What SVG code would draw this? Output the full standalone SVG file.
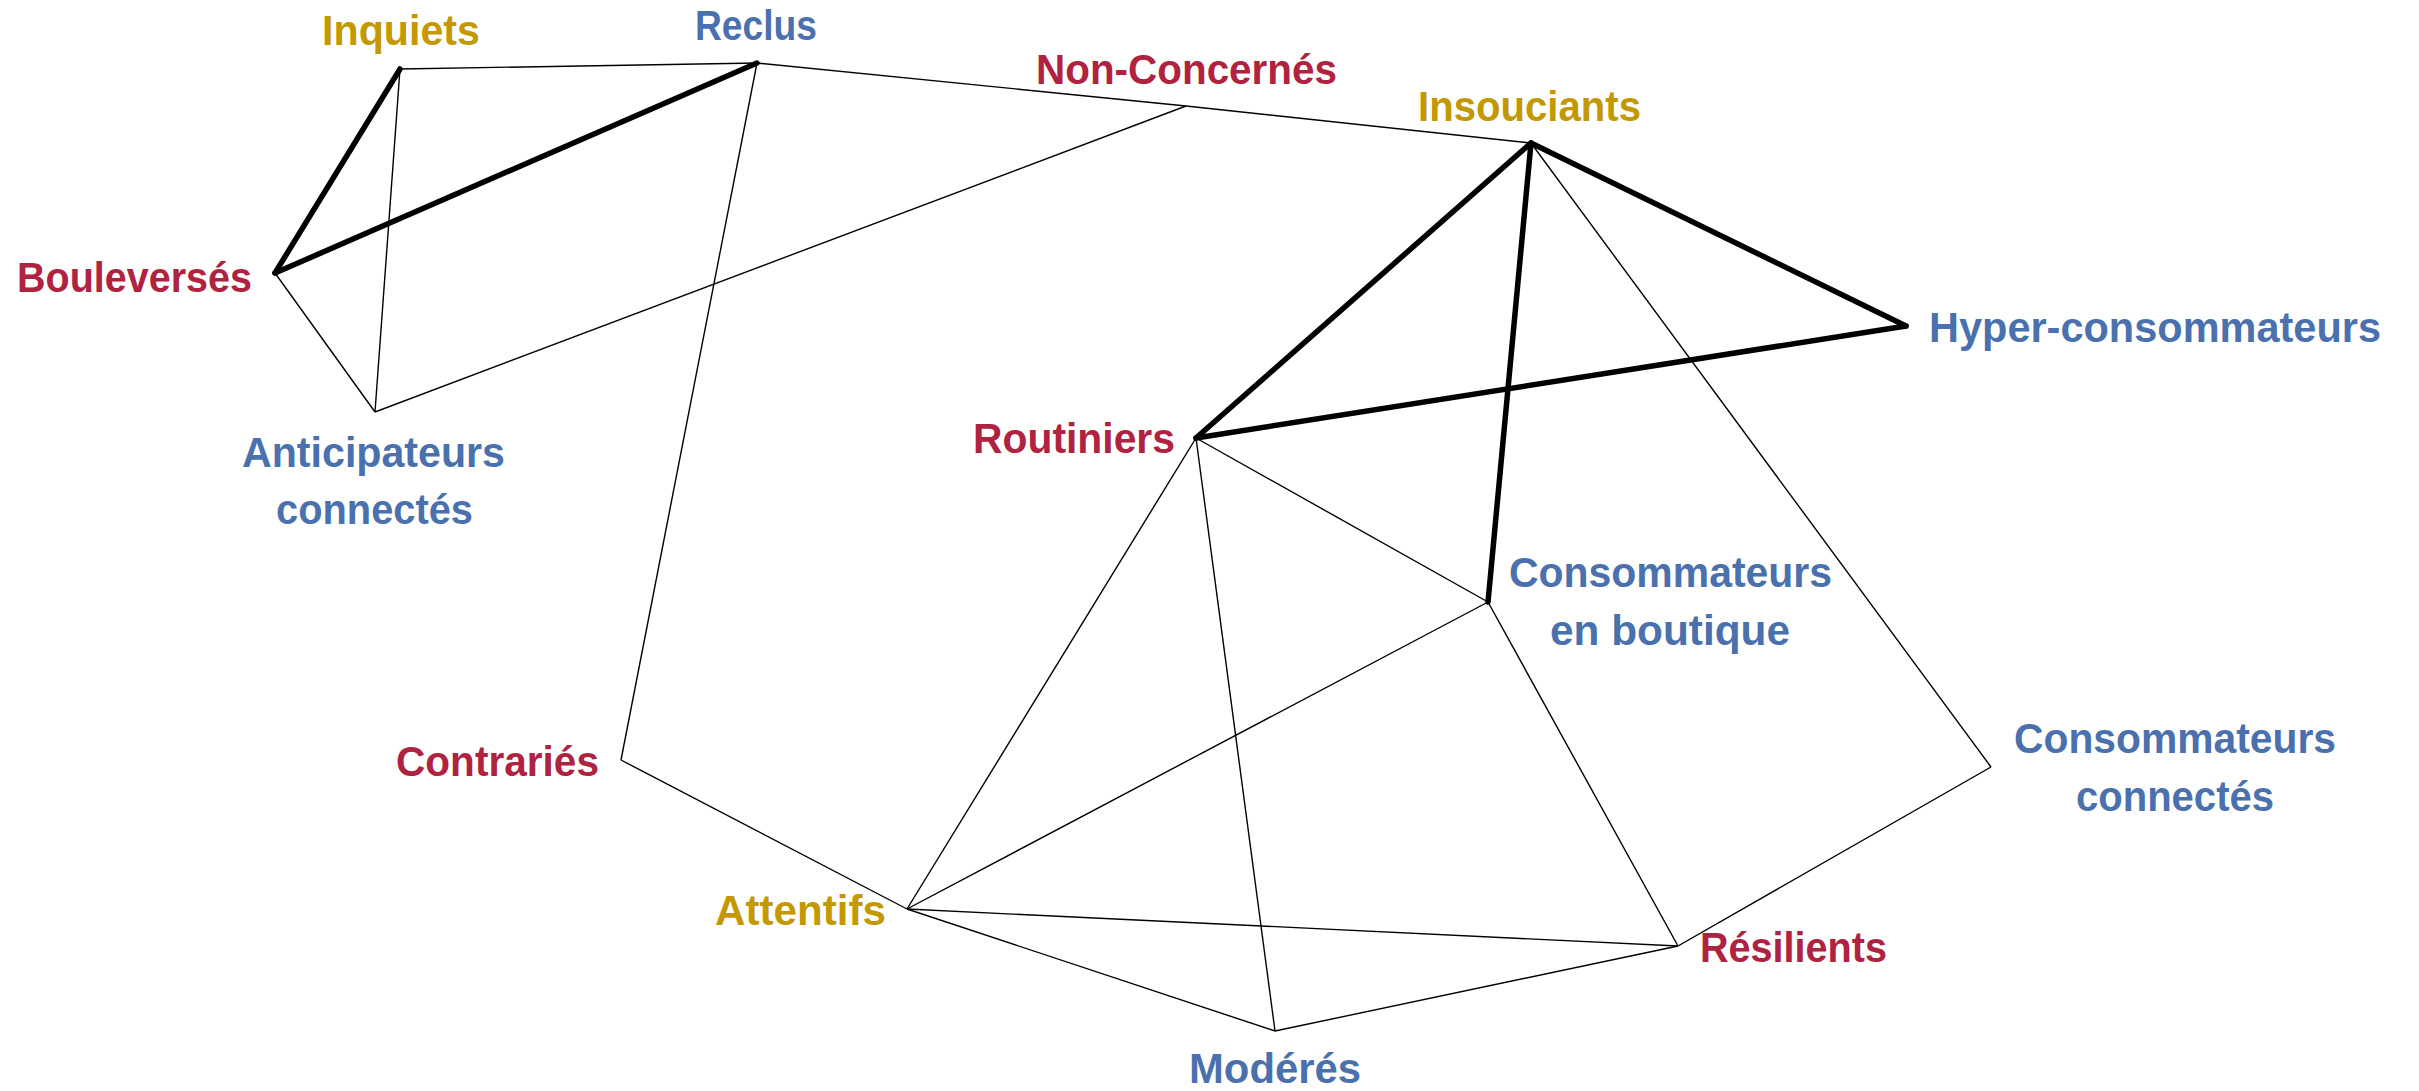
<svg xmlns="http://www.w3.org/2000/svg" width="2419" height="1091" viewBox="0 0 2419 1091">
<style>
text{font-family:"Liberation Sans",Arial,sans-serif;font-weight:bold;font-size:43px;}
.r{fill:#AF2341}.g{fill:#C39800}.b{fill:#4A71AE}
.thin{stroke:#000;stroke-width:1.4;fill:none}
.thick{stroke:#000;stroke-width:5.5;fill:none;stroke-linecap:round}
</style>
<rect width="2419" height="1091" fill="#fff"/>
<g id="connectors">
<line class="thin" x1="400" y1="69" x2="757" y2="63"/>
<line class="thin" x1="400" y1="69" x2="375" y2="412"/>
<line class="thin" x1="275" y1="273" x2="375" y2="412"/>
<line class="thin" x1="375" y1="412" x2="1186" y2="106"/>
<line class="thin" x1="757" y1="63" x2="1186" y2="106"/>
<line class="thin" x1="1186" y1="106" x2="1531" y2="143"/>
<line class="thin" x1="757" y1="63" x2="621" y2="760"/>
<line class="thin" x1="621" y1="760" x2="907" y2="909"/>
<line class="thin" x1="1531" y1="143" x2="1991" y2="767"/>
<line class="thin" x1="1196" y1="438" x2="907" y2="909"/>
<line class="thin" x1="1196" y1="438" x2="1275" y2="1031"/>
<line class="thin" x1="1196" y1="438" x2="1488" y2="602"/>
<line class="thin" x1="1488" y1="602" x2="907" y2="909"/>
<line class="thin" x1="1488" y1="602" x2="1678" y2="946"/>
<line class="thin" x1="907" y1="909" x2="1678" y2="946"/>
<line class="thin" x1="907" y1="909" x2="1275" y2="1031"/>
<line class="thin" x1="1275" y1="1031" x2="1678" y2="946"/>
<line class="thin" x1="1678" y1="946" x2="1991" y2="767"/>
<line class="thick" x1="275" y1="273" x2="400" y2="69"/>
<line class="thick" x1="275" y1="273" x2="757" y2="63"/>
<line class="thick" x1="1531" y1="143" x2="1196" y2="438"/>
<line class="thick" x1="1531" y1="143" x2="1488" y2="602"/>
<line class="thick" x1="1531" y1="143" x2="1906" y2="326"/>
<line class="thick" x1="1196" y1="438" x2="1906" y2="326"/>
</g>
<g id="inquiets"><text class="g" x="322" y="45" textLength="158" lengthAdjust="spacingAndGlyphs">Inquiets</text></g>
<g id="reclus"><text class="b" x="695" y="40" textLength="122" lengthAdjust="spacingAndGlyphs">Reclus</text></g>
<g id="non-concernes"><text class="r" x="1036" y="84" textLength="301" lengthAdjust="spacingAndGlyphs">Non-Concernés</text></g>
<g id="insouciants"><text class="g" x="1418" y="121" textLength="223" lengthAdjust="spacingAndGlyphs">Insouciants</text></g>
<g id="bouleverses"><text class="r" x="17" y="292" textLength="235" lengthAdjust="spacingAndGlyphs">Bouleversés</text></g>
<g id="anticipateurs-connectes"><text class="b" x="242" y="467" textLength="263" lengthAdjust="spacingAndGlyphs">Anticipateurs</text><text class="b" x="276" y="524" textLength="197" lengthAdjust="spacingAndGlyphs">connectés</text></g>
<g id="hyper-consommateurs"><text class="b" x="1929" y="342" textLength="452" lengthAdjust="spacingAndGlyphs">Hyper-consommateurs</text></g>
<g id="routiniers"><text class="r" x="973" y="453" textLength="202" lengthAdjust="spacingAndGlyphs">Routiniers</text></g>
<g id="consommateurs-en-boutique"><text class="b" x="1509" y="587" textLength="323" lengthAdjust="spacingAndGlyphs">Consommateurs</text><text class="b" x="1550" y="645" textLength="240" lengthAdjust="spacingAndGlyphs">en boutique</text></g>
<g id="contraries"><text class="r" x="396" y="776" textLength="203" lengthAdjust="spacingAndGlyphs">Contrariés</text></g>
<g id="consommateurs-connectes"><text class="b" x="2014" y="753" textLength="322" lengthAdjust="spacingAndGlyphs">Consommateurs</text><text class="b" x="2076" y="811" textLength="198" lengthAdjust="spacingAndGlyphs">connectés</text></g>
<g id="attentifs"><text class="g" x="715" y="925" textLength="171" lengthAdjust="spacingAndGlyphs">Attentifs</text></g>
<g id="resilients"><text class="r" x="1700" y="962" textLength="187" lengthAdjust="spacingAndGlyphs">Résilients</text></g>
<g id="moderes"><text class="b" x="1189" y="1083" textLength="172" lengthAdjust="spacingAndGlyphs">Modérés</text></g>
</svg>
